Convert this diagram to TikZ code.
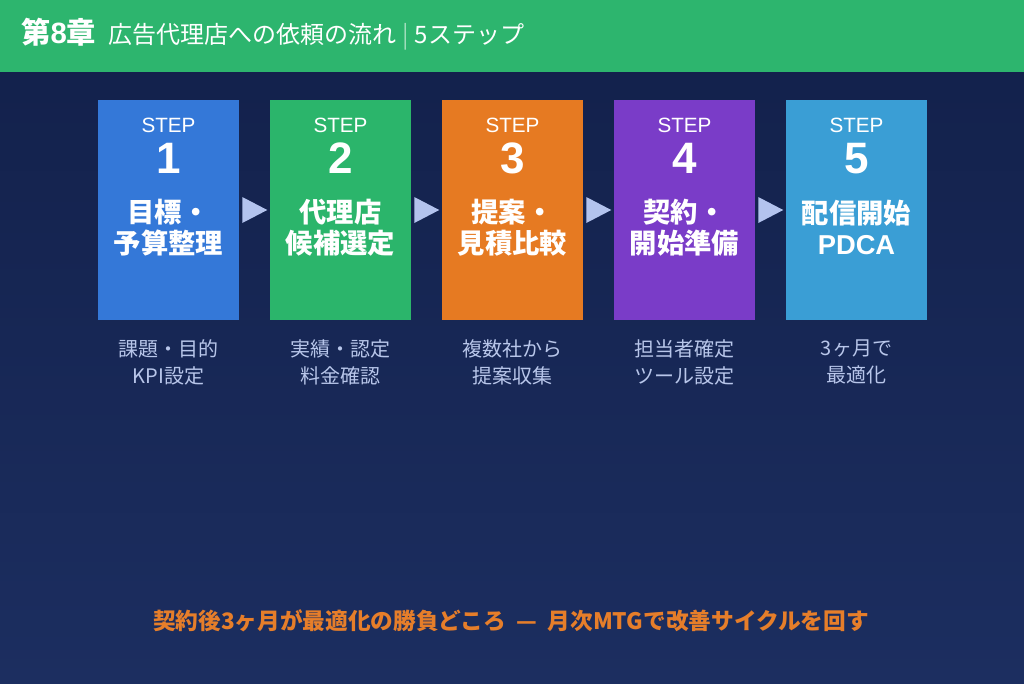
\documentclass[tikz,border=0pt]{standalone}
\usepackage{fontspec}
\setmainfont{Noto Sans CJK JP}
\newfontfamily\latin{Liberation Sans}
\usetikzlibrary{calc}

\definecolor{hdrgreen}{HTML}{2DB56E}
\definecolor{hdrbar}{HTML}{9FDDBB}
\definecolor{bgtop}{HTML}{12204A}
\definecolor{bgbot}{HTML}{1C2E60}
\definecolor{stepblue}{HTML}{3478D8}
\definecolor{stepgreen}{HTML}{2BB56B}
\definecolor{steporange}{HTML}{E67A22}
\definecolor{steppurple}{HTML}{7A3CC8}
\definecolor{stepsky}{HTML}{3A9ED5}
\definecolor{captxt}{HTML}{B8C6EA}
\definecolor{arrowfill}{HTML}{B3C3EE}
\definecolor{notetxt}{HTML}{E67E2A}

\begin{document}
\begin{tikzpicture}[x=0.75pt,y=-0.75pt,
	stepbox/.style={minimum width=105.75pt,minimum height=165pt,inner sep=0pt},
	steplbl/.style={text=white,inner sep=0pt,font=\latin\fontsize{15.5pt}{15.5pt}\selectfont},
	stepnum/.style={text=white,inner sep=0pt,font=\latin\bfseries\fontsize{33pt}{33pt}\selectfont},
	steptitle/.style={text=white,align=center,inner sep=0pt,font=\bfseries\fontsize{20.5pt}{23.3pt}\selectfont},
	stepcap/.style={text=captxt,align=center,inner sep=0pt,font=\fontsize{15pt}{20.2pt}\selectfont}]
		\useasboundingbox (0,0) rectangle (1024,683);
		% background and header bar
		\shade[top color=bgtop, bottom color=bgbot] (0,0) rectangle (1024,683);
		\fill[hdrgreen] (0,0) rectangle (1024,72);
		\node[anchor=base west, inner sep=0pt, text=white, font=\bfseries\fontsize{22pt}{22pt}\selectfont] (chap) at (21,43) {第{\latin 8}章};
		\node[anchor=base west, inner sep=0pt, text=white, font=\fontsize{18pt}{18pt}\selectfont] (head) at (108,43) {広告代理店への依頼の流れ\hspace{5pt}\textcolor{hdrbar}{|}\hspace{4pt}5ステップ};
		% step boxes with labels
		\foreach \i/\col/\ttl/\capt in {
			1/stepblue/{目標・\\予算整理}/{課題・目的\\KPI設定},
			2/stepgreen/{代理店\\候補選定}/{実績・認定\\料金確認},
			3/steporange/{提案・\\見積比較}/{複数社から\\提案収集},
			4/steppurple/{契約・\\開始準備}/{担当者確定\\ツール設定},
			5/stepsky/{配信開始\\{\latin PDCA}}/{3ヶ月で\\最適化}}
		{
			\node[stepbox, fill=\col] (box\i) at (168.5+172*\i-172,210) {};
			\node[steplbl, anchor=base] (lbl\i) at (168.5+172*\i-172,132) {STEP};
			\node[stepnum, anchor=base] (num\i) at (168.5+172*\i-172,173) {\i};
			\node[steptitle] (ttl\i) at (168.5+172*\i-172,227.5) {\ttl};
			\node[stepcap] (cap\i) at (168.5+172*\i-172,362) {\capt};
		}
		% arrows between the steps
		\foreach \i in {1,...,4}
		{
			\fill[arrowfill] ($(box\i.east)+(3,-13)$) -- ($(box\i.east)+(28,0)$) -- ($(box\i.east)+(3,13)$) -- cycle;
		}
		% note at the bottom
		\node[text=notetxt, inner sep=0pt, font=\bfseries\fontsize{17pt}{17pt}\selectfont] (note) at (511,621) {契約後3ヶ月が最適化の勝負どころ\ \ —\ \ 月次MTGで改善サイクルを回す};
	\end{tikzpicture}
\end{document}
